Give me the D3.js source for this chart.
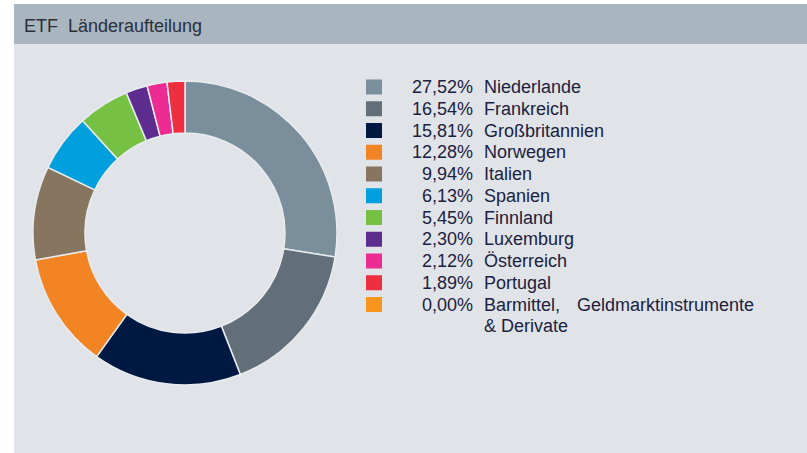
<!DOCTYPE html>
<meta charset="utf-8">
<script src="https://d3js.org/d3.v7.min.js"></script>
<style>
  body { margin: 0; background: #fff; }
  text { font-family: "Liberation Sans", Arial, sans-serif; }
</style>
<svg id="chart" width="807" height="453"></svg>
<script>
// data
const countries = ["Niederlande", "Frankreich", "Großbritannien", "Norwegen", "Italien",
  "Spanien", "Finnland", "Luxemburg", "Österreich", "Portugal", "Barmittel, Geldmarktinstrumente & Derivate"];
const shares = [27.52, 16.54, 15.81, 12.28, 9.94, 6.13, 5.45, 2.30, 2.12, 1.89, 0.00];
const colors = ["#7a8e9b", "#626f78", "#001943", "#f38423", "#877560", "#009fdd",
  "#76c043", "#5c2d8f", "#ec2b93", "#ee2f40", "#f8951d"];

const svg = d3.select("#chart");

// panel + header
svg.append("rect").attr("x", 14).attr("y", 4).attr("width", 793).attr("height", 449).attr("fill", "#e0e4e8");
svg.append("rect").attr("x", 14).attr("y", 4).attr("width", 793).attr("height", 40).attr("fill", "#a9b6bf");
svg.append("text").attr("x", 24).attr("y", 32)
  .attr("font-size", 18).attr("fill", "#2b2f3a")
  .attr("xml:space", "preserve")
  .text("ETF  Länderaufteilung");

// donut
const pie = d3.pie().sort(null).value(d => d.v);
const arc = d3.arc().innerRadius(100).outerRadius(152);
const slices = pie(shares.map((v, i) => ({ v, i })));

svg.append("g").attr("transform", "translate(185,233)")
  .selectAll("path")
  .data(slices.filter(d => d.data.v > 0))
  .join("path")
  .attr("d", arc)
  .attr("fill", d => colors[d.data.i])
  .attr("stroke", "#e8ecef")
  .attr("stroke-width", 1.5);

// legend
const y = d3.scaleLinear().domain([0, 10]).range([87, 304.5]);
const fmt = v => v.toFixed(2).replace(".", ",") + "%";
const leg = svg.append("g");
const row = leg.selectAll("g").data(countries).join("g")
  .attr("transform", (d, i) => `translate(0,${y(i)})`);

row.append("rect").attr("x", 366).attr("y", -7.5).attr("width", 16).attr("height", 15)
  .attr("fill", (d, i) => colors[i]);
row.append("text").attr("x", 473).attr("y", 6)
  .attr("text-anchor", "end").attr("font-size", 18).attr("fill", "#1b2140")
  .text((d, i) => fmt(shares[i]));

row.filter((d, i) => i < 10).append("text").attr("x", 484).attr("y", 6)
  .attr("font-size", 18).attr("fill", "#1b2140")
  .text(d => d);

// last entry wraps on two lines, justified
const last = row.filter((d, i) => i === 10);
last.append("text").attr("x", 484).attr("y", 6).attr("font-size", 18).attr("fill", "#1b2140").text("Barmittel,");
last.append("text").attr("x", 577).attr("y", 6).attr("font-size", 18).attr("fill", "#1b2140").text("Geldmarktinstrumente");
last.append("text").attr("x", 484).attr("y", 27).attr("font-size", 18).attr("fill", "#1b2140").text("& Derivate");
</script>
